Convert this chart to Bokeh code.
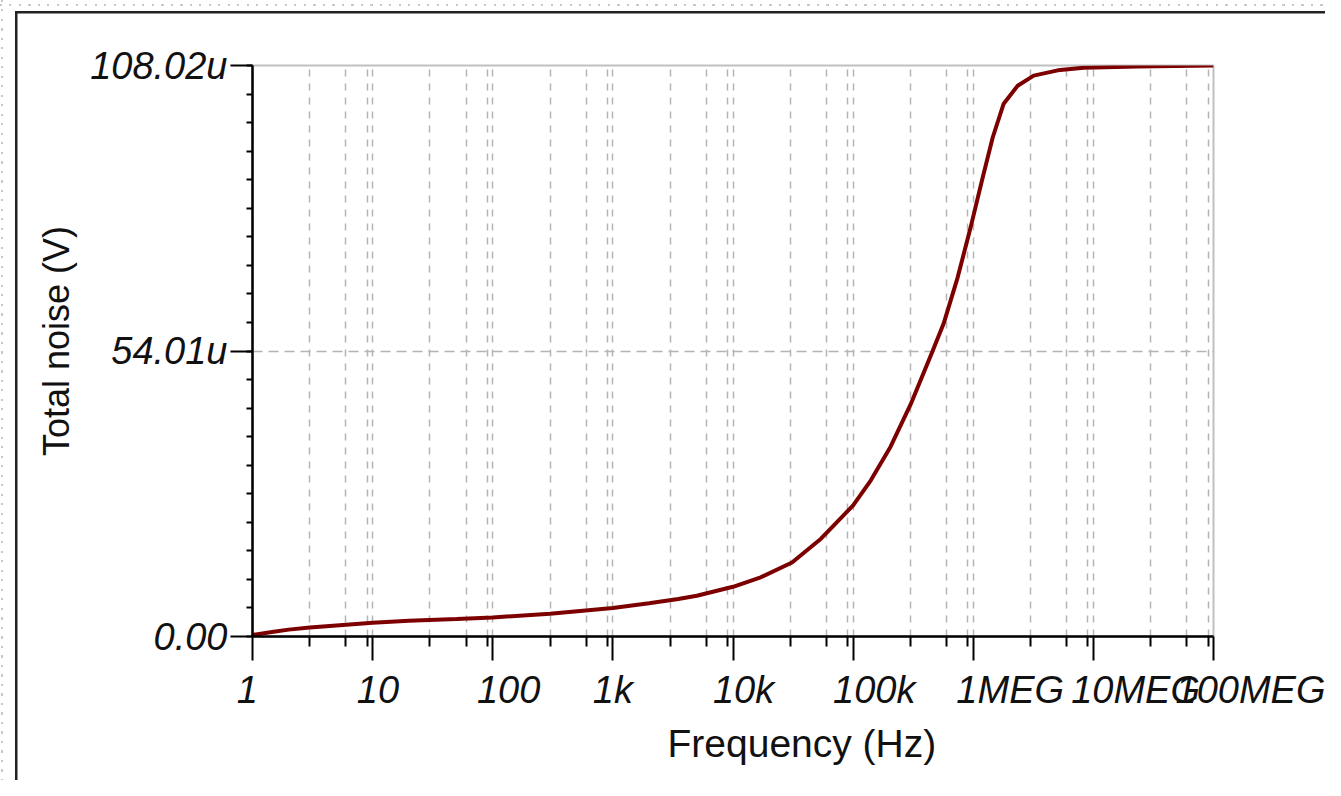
from bokeh.plotting import figure
from bokeh.models import Range1d, FixedTicker, CustomJSTickFormatter, Title, InlineStyleSheet
from bokeh.embed import file_html
from bokeh.resources import INLINE

# ---- data ----
FREQ_HZ = [1, 1.5, 2, 3, 5, 10, 20, 50, 100, 300,
           1000, 2000, 3500, 5000, 10000, 17000, 31000, 54000, 100000, 140000,
           205000, 301000, 459000, 567000, 741000, 951000, 1.197e6, 1.452e6, 1.792e6, 2.343e6,
           3.186e6, 5.05e6, 8.3e6, 23.4e6, 100e6]
NOISE_UV = [0.3, 0.9, 1.3, 1.7, 2.1, 2.6, 3.0, 3.3, 3.6, 4.3,
            5.4, 6.3, 7.1, 7.7, 9.4, 11.2, 14.0, 18.5, 24.8, 29.5,
            35.9, 43.9, 54.0, 59.2, 67.9, 77.4, 86.8, 94.4, 100.8, 104.2,
            106.1, 107.1, 107.6, 107.85, 108.02]

XTICKS = [1, 10, 100, 1e3, 1e4, 1e5, 1e6, 1e7, 1e8]
XTICK_LABELS = ["1", "10", "100", "1k", "10k", "100k", "1MEG", "10MEG", "100MEG"]
XMINOR_MULT = [3, 6, 9]
YTICKS = [0, 54.01, 108.02]
YTICK_LABELS = ["0.00", "54.01u", "108.02u"]
YMINOR_STEP = 5.401
X_TITLE = "Frequency (Hz)"
Y_TITLE = "Total noise (V)"

# label placement: the reference draws x tick labels left-aligned just before
# each tick; padding with no-break spaces shifts the centred labels (>0 leading, <0 trailing)
XLABEL_PAD = [-1, 1, 3, 0, 2, 4, 7, 8, 11]
YTITLE_PAD = 2
NBSP = "\u00a0"


def padded(t, n):
    return NBSP * n + t if n >= 0 else t + NBSP * (-n)


XLABELS_SHOWN = [padded(t, n) for t, n in zip(XTICK_LABELS, XLABEL_PAD)]
XMINOR = [m * d for d in XTICKS[:-1] for m in XMINOR_MULT]
YMINOR = [YMINOR_STEP * i for i in range(21)]

FONT = "Liberation Sans"
TXT = "#111111"
GRID = "#b4b4b4"
W, H = 1325, 780

# window chrome of the reference: black panel frame (left/top) and light dotted page edge
CHROME_CSS = f"""
:host {{ position: relative; }}
:host::before {{
  content: "";
  position: absolute;
  left: 0; top: 0; width: {W}px; height: {H}px;
  pointer-events: none;
  z-index: 10;
  background-image:
    linear-gradient(#222222, #222222),
    linear-gradient(#222222, #222222),
    repeating-linear-gradient(to right, #c8c8c8 0 2px, transparent 2px 9.5px),
    repeating-linear-gradient(to bottom, #c8c8c8 0 2px, transparent 2px 9.5px);
  background-position: 15px 11px, 15px 11px, 0 4px, 1px 0;
  background-size: {W - 15}px 2.5px, 2.5px {H - 11}px, {W}px 2px, 2px {H}px;
  background-repeat: no-repeat;
}}
"""

p = figure(width=W, height=H, x_axis_type="log",
           x_range=Range1d(1, 1e8), y_range=Range1d(0, 108.02),
           output_backend="svg", toolbar_location=None,
           min_border_left=252, min_border_right=112,
           min_border_top=65, min_border_bottom=144)
p.stylesheets = [InlineStyleSheet(css=CHROME_CSS)]
p.background_fill_color = "white"
p.border_fill_color = "white"
p.outline_line_color = "#c0c0c0"
p.outline_line_width = 2

xt = FixedTicker(ticks=XTICKS, minor_ticks=XMINOR)
yt = FixedTicker(ticks=YTICKS, minor_ticks=YMINOR)

xa = p.xaxis[0]
xa.ticker = xt
xa.formatter = CustomJSTickFormatter(args=dict(vals=XTICKS, labs=XLABELS_SHOWN), code="""
let b = 0;
const lt = Math.log10(tick);
for (let i = 0; i < vals.length; i++) {
  if (Math.abs(Math.log10(vals[i]) - lt) < Math.abs(Math.log10(vals[b]) - lt)) b = i;
}
return labs[b];
""")
ya = p.yaxis[0]
ya.ticker = yt
ya.formatter = CustomJSTickFormatter(args=dict(vals=YTICKS, labs=YTICK_LABELS), code="""
let b = 0;
for (let i = 0; i < vals.length; i++) {
  if (Math.abs(vals[i] - tick) < Math.abs(vals[b] - tick)) b = i;
}
return labs[b];
""")

for ax in (xa, ya):
    ax.axis_line_color = "black"
    ax.axis_line_width = 2.5
    ax.major_tick_line_color = "black"
    ax.major_tick_line_width = 2
    ax.minor_tick_line_color = "black"
    ax.minor_tick_line_width = 2
    ax.major_tick_in = 0
    ax.minor_tick_in = 0
    ax.major_label_text_font = FONT
    ax.major_label_text_font_style = "italic"
    ax.major_label_text_font_size = "38px"
    ax.major_label_text_color = TXT

xa.major_tick_out = 24
xa.minor_tick_out = 10
xa.major_label_standoff = 8
ya.major_tick_out = 22
ya.minor_tick_out = 6
ya.major_label_standoff = 3

ya.axis_label = padded(Y_TITLE, YTITLE_PAD)
ya.axis_label_text_font = FONT
ya.axis_label_text_font_style = "normal"
ya.axis_label_text_font_size = "36px"
ya.axis_label_text_color = TXT
ya.axis_label_standoff = 10

p.add_layout(Title(text=X_TITLE, align="left", offset=415, standoff=12,
                   text_font=FONT, text_font_style="normal",
                   text_font_size="39px", text_color=TXT), "below")

p.xgrid.ticker = xt
p.xgrid.grid_line_color = GRID
p.xgrid.grid_line_dash = "7 7"
p.xgrid.grid_line_width = 1.5
p.xgrid.minor_grid_line_color = GRID
p.xgrid.minor_grid_line_dash = "7 7"
p.xgrid.minor_grid_line_width = 1.5
p.ygrid.ticker = yt
p.ygrid.grid_line_color = GRID
p.ygrid.grid_line_dash = "10 6"
p.ygrid.grid_line_width = 1.5

p.line(FREQ_HZ, NOISE_UV, line_color="#7d0000", line_width=4)

open("out.html", "w").write(file_html(p, INLINE))
